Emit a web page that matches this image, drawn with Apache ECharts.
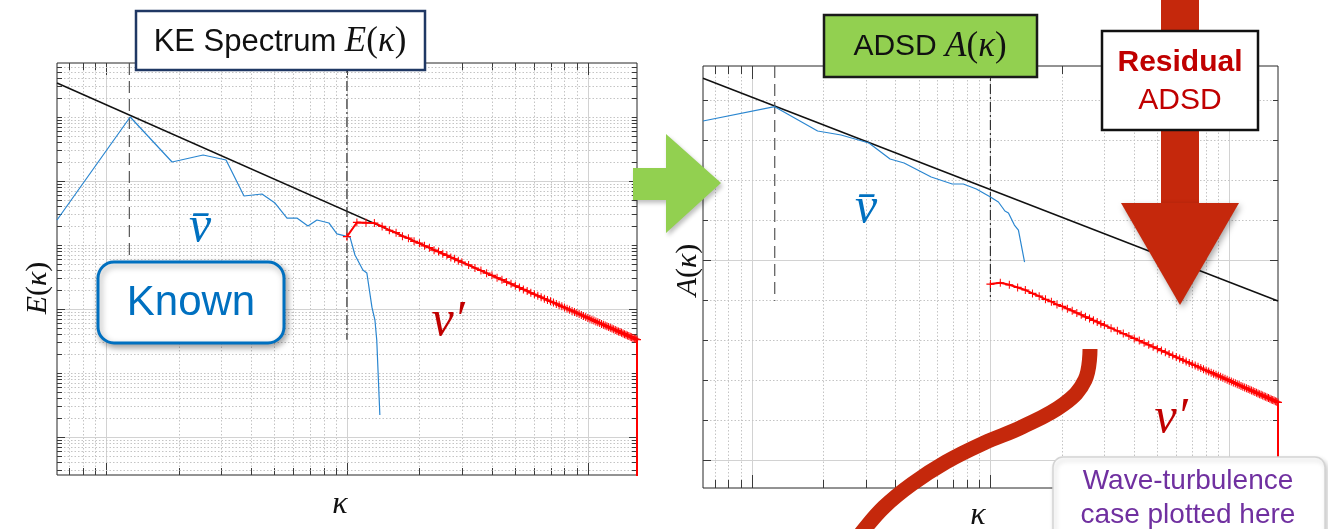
<!DOCTYPE html>
<html>
<head>
<meta charset="utf-8">
<title>KE spectrum and ADSD</title>
<script src="https://cdn.jsdelivr.net/npm/echarts@6.0.0/dist/echarts.min.js"></script>
<style>
html, body { margin: 0; padding: 0; background: #fff; }
#main { width: 1328px; height: 529px; }
</style>
</head>
<body>
<div id="main"></div>
<script>
// axis ranges (both panels share the wavenumber range)
var kappaRange = [0.626, 160];
var keRange = [2.55e-9, 6.98e-3];
var adsdRange = [2.0e-6, 7.08e4];

var kappaPeak = 1.25;  // dashed marker
var kappaCut = 10;     // dash-dot marker

// reference power-law lines
var keFitLine = [[0.626, 3.40e-3], [160, 3.32e-7]];
var adsdFitLine = [[0.626, 3.49e4], [160, 9.44e-2]];

// mean (resolved) part, blue
var keMeanKappa = [0.626, 1.26, 1.88, 2.53, 3.15, 3.74, 4.44, 5.03, 5.64, 6.20, 6.89, 7.51, 8.42, 9.09, 9.9, 10.3, 10.8, 11.65, 12.1, 12.7, 13.07, 13.3, 13.7];
var keMeanE = [2.46e-5, 1.0e-3, 1.98e-4, 2.55e-4, 2.13e-4, 5.83e-5, 6.27e-5, 4.53e-5, 2.64e-5, 2.64e-5, 1.98e-5, 2.46e-5, 2.21e-5, 1.49e-5, 1.38e-5, 1.33e-5, 6.98e-6, 4.07e-6, 3.65e-6, 1.07e-6, 6.73e-7, 3.28e-7, 2.21e-8];
var adsdMeanKappa = [0.626, 1.249, 1.89, 2.37, 3.10, 3.80, 4.35, 5.65, 6.92, 7.70, 8.73, 10.0, 10.8, 11.5, 11.9, 12.6, 13.1, 13.9];
var adsdMeanA = [2985, 6800, 1679, 1334, 841, 335, 266, 119, 79.4, 79.4, 59.6, 37.6, 28.2, 16.8, 15.0, 7.5, 5.6, 0.89];

// fluctuating part, red (last point drops below the axis)
var fluctKappa = [10, 11, 12, 13, 14, 15, 16, 17, 18, 19, 20, 21, 22, 23, 24, 25, 26, 27, 28, 29, 30,
  32, 34, 36, 38, 40, 42, 44, 46, 48, 50, 52, 54, 56, 58, 60,
  62, 64, 66, 68, 70, 72, 74, 76, 78, 80, 82, 84, 86, 88, 90, 92, 94, 96, 98, 100,
  102, 104, 106, 108, 110, 112, 114, 116, 118, 120, 122, 124, 126, 128, 130,
  132, 134, 136, 138, 140, 142, 144, 146, 148, 150, 152, 154, 156, 158, 160, 160];
var keFluctE = [1.35e-5, 2.25e-5, 2.22e-5, 2.20e-5, 1.95e-5, 1.70e-5, 1.56e-5, 1.37e-5, 1.28e-5, 1.14e-5, 1.07e-5, 9.7e-6, 9.1e-6, 8.3e-6, 7.9e-6, 7.3e-6, 6.9e-6, 6.4e-6, 6.1e-6, 5.7e-6, 5.4e-6,
  4.88e-6, 4.37e-6, 4.0e-6, 3.63e-6, 3.36e-6, 3.08e-6, 2.87e-6, 2.64e-6, 2.48e-6, 2.30e-6, 2.17e-6, 2.02e-6, 1.92e-6, 1.79e-6, 1.70e-6,
  1.61e-6, 1.53e-6, 1.45e-6, 1.38e-6, 1.32e-6, 1.26e-6, 1.20e-6, 1.15e-6, 1.10e-6, 1.055e-6, 1.01e-6, 9.72e-7, 9.35e-7, 9.0e-7, 8.67e-7, 8.36e-7, 8.06e-7, 7.78e-7, 7.52e-7, 7.27e-7,
  7.04e-7, 6.81e-7, 6.60e-7, 6.40e-7, 6.20e-7, 6.02e-7, 5.84e-7, 5.68e-7, 5.52e-7, 5.37e-7, 5.22e-7, 5.08e-7, 4.95e-7, 4.82e-7, 4.70e-7,
  4.58e-7, 4.47e-7, 4.36e-7, 4.25e-7, 4.15e-7, 4.05e-7, 3.96e-7, 3.87e-7, 3.78e-7, 3.70e-7, 3.62e-7, 3.54e-7, 3.47e-7, 3.39e-7, 3.32e-7, 1e-12];
var adsdFluctA = [0.25, 0.27, 0.24, 0.206, 0.178, 0.146, 0.125, 0.104, 0.091, 0.077, 0.0692, 0.0605, 0.0540, 0.0476, 0.0429, 0.0381, 0.0347, 0.0310, 0.0284, 0.0256, 0.0237,
  0.0198, 0.0170, 0.01448, 0.01262, 0.01095, 0.00968, 0.00850, 0.00759, 0.00675, 0.00608, 0.00546, 0.00496, 0.00448, 0.00410, 0.00374,
  0.00343, 0.00315, 0.00290, 0.00268, 0.00248, 0.00231, 0.00214, 0.00200, 0.00186, 0.00174, 0.00163, 0.00153, 0.00144, 0.00135, 0.00127, 0.00120, 0.00114, 0.00107, 0.00102, 9.63e-4,
  9.14e-4, 8.68e-4, 8.25e-4, 7.85e-4, 7.48e-4, 7.13e-4, 6.80e-4, 6.49e-4, 6.20e-4, 5.93e-4, 5.68e-4, 5.44e-4, 5.21e-4, 5.00e-4, 4.80e-4,
  4.61e-4, 4.43e-4, 4.26e-4, 4.09e-4, 3.94e-4, 3.80e-4, 3.66e-4, 3.53e-4, 3.40e-4, 3.28e-4, 3.17e-4, 3.06e-4, 2.96e-4, 2.86e-4, 2.76e-4, 1e-9];

// grid decades (major = solid line), minor lines at 1..9 multiples
var kappaDecades = [-1, 0, 1, 2];
var kappaMajor = [0, 1, 2];
var keDecades = [-9, -8, -7, -6, -5, -4, -3];
var keMajor = [-8, -6, -4];
var adsdDecades = [-5, -4, -3, -2, -1, 0, 1, 2, 3, 4];
var adsdMajor = [-5, 0];
var allMults = [1, 2, 3, 4, 5, 6, 7, 8, 9];
var decadeOnly = [1];

function logTicks(decades, majors, mults, range) {
  var out = [];
  decades.forEach(function (d) {
    mults.forEach(function (m) {
      var v = m * Math.pow(10, d);
      if (v > range[0] * 1.001 && v < range[1] / 1.001) {
        out.push({ v: v, major: m === 1 && majors.indexOf(d) >= 0 });
      }
    });
  });
  return out;
}

function gridSeries(idx, ticks, vertical, ref, majorLen, minorLen) {
  return {
    type: 'custom',
    xAxisIndex: idx, yAxisIndex: idx,
    silent: true, z: 1,
    data: ticks.map(function (t) { return vertical ? [t.v, ref] : [ref, t.v]; }),
    renderItem: function (params, api) {
      var cs = params.coordSys;
      var t = ticks[params.dataIndex];
      var p = api.coord([api.value(0), api.value(1)]);
      var len = t.major ? majorLen : minorLen;
      var x0 = cs.x, x1 = cs.x + cs.width, y0 = cs.y, y1 = cs.y + cs.height;
      function gl() {
        return { stroke: t.major ? '#d2d2d2' : '#c4c4c4', lineWidth: 1, lineDash: t.major ? null : [1.5, 2] };
      }
      function tk() { return { stroke: '#3a3a3a', lineWidth: 1 }; }
      var kids;
      if (vertical) {
        var x = Math.round(p[0]) + 0.5;
        kids = [
          { type: 'line', shape: { x1: x, y1: y0, x2: x, y2: y1 }, style: gl() },
          { type: 'line', shape: { x1: x, y1: y1, x2: x, y2: y1 - len }, style: tk() },
          { type: 'line', shape: { x1: x, y1: y0, x2: x, y2: y0 + len }, style: tk() }
        ];
      } else {
        var y = Math.round(p[1]) + 0.5;
        kids = [
          { type: 'line', shape: { x1: x0, y1: y, x2: x1, y2: y }, style: gl() },
          { type: 'line', shape: { x1: x0, y1: y, x2: x0 + len, y2: y }, style: tk() },
          { type: 'line', shape: { x1: x1, y1: y, x2: x1 - len, y2: y }, style: tk() }
        ];
      }
      return { type: 'group', children: kids };
    }
  };
}

function pairs(xs, ys) {
  return xs.map(function (x, i) { return [x, ys[i]]; });
}

var plusMark = 'path://M-0.5,-4H0.5V-0.6H4V0.6H0.5V4H-0.5V0.6H-4V-0.6H-0.5Z';

function panelSeries(idx, yRange, fit, meanK, meanV, fluctV) {
  var fitEnd = fit[1][1];
  return [
    { type: 'line', xAxisIndex: idx, yAxisIndex: idx, data: fit, symbol: 'none', silent: true, z: 3,
      lineStyle: { color: '#111', width: 1.5 } },
    { type: 'line', xAxisIndex: idx, yAxisIndex: idx, data: [[kappaPeak, yRange[1]], [kappaPeak, fitEnd]], symbol: 'none', silent: true,
      lineStyle: { color: '#555', width: 1.2, type: [12, 6] } },
    { type: 'line', xAxisIndex: idx, yAxisIndex: idx, data: [[kappaCut, yRange[1]], [kappaCut, fitEnd]], symbol: 'none', silent: true,
      lineStyle: { color: '#333', width: 1.2, type: [10, 3, 2, 3] } },
    { type: 'line', xAxisIndex: idx, yAxisIndex: idx, data: pairs(meanK, meanV), symbol: 'none', silent: true, z: 4,
      lineStyle: { color: '#2a86d0', width: 1.2 } },
    { type: 'line', xAxisIndex: idx, yAxisIndex: idx, data: pairs(fluctKappa, fluctV), silent: true, z: 5,
      symbol: plusMark, symbolSize: 8, showSymbol: true,
      itemStyle: { color: '#ff0000' }, lineStyle: { color: '#ff0000', width: 2 } }
  ];
}

function logAxis(idx, range) {
  return { type: 'log', gridIndex: idx, min: range[0], max: range[1],
    axisLine: { show: false }, axisTick: { show: false }, axisLabel: { show: false }, splitLine: { show: false } };
}

var kTicks = logTicks(kappaDecades, kappaMajor, allMults, kappaRange);
var keTicks = logTicks(keDecades, keMajor, allMults, keRange);
var adsdTicks = logTicks(adsdDecades, adsdMajor, decadeOnly, adsdRange);

var serif = '"Liberation Serif", "DejaVu Serif", serif';
var sans = '"Liberation Sans", Arial, sans-serif';
var mathRich = function (size, textSize) {
  return {
    a: { fontSize: textSize || 30, fontFamily: sans, fill: '#111' },
    m: { fontSize: size, fontFamily: serif, fontStyle: 'italic', fill: '#111' },
    p: { fontSize: size, fontFamily: serif, fill: '#111' }
  };
};
var arrowRed = '#c5280c';
var shadow = { shadowBlur: 6, shadowOffsetX: 2, shadowOffsetY: 3, shadowColor: 'rgba(0,0,0,0.35)' };

function withShadow(style) {
  return Object.assign({}, shadow, style);
}

var option = {
  animation: false,
  backgroundColor: '#fff',
  grid: [
    { left: 57, top: 63, width: 580, height: 412, show: true, borderColor: '#262626', borderWidth: 1 },
    { left: 703, top: 66, width: 575, height: 422, show: true, borderColor: '#262626', borderWidth: 1 }
  ],
  xAxis: [logAxis(0, kappaRange), logAxis(1, kappaRange)],
  yAxis: [logAxis(0, keRange), logAxis(1, adsdRange)],
  series: [
    gridSeries(0, kTicks, true, 1e-5, 12, 7),
    gridSeries(0, keTicks, false, 1, 8, 5),
    gridSeries(1, kTicks, true, 1, 13, 8),
    gridSeries(1, adsdTicks, false, 1, 8, 5)
  ].concat(
    panelSeries(0, keRange, keFitLine, keMeanKappa, keMeanE, keFluctE),
    panelSeries(1, adsdRange, adsdFitLine, adsdMeanKappa, adsdMeanA, adsdFluctA)
  ),
  graphic: [
    // left title
    { type: 'rect', z: 100, shape: { x: 136, y: 11, width: 289, height: 59 },
      style: { fill: '#fff', stroke: '#203864', lineWidth: 2.5 } },
    { type: 'text', z: 101, x: 280, y: 42, style: { text: '{a|KE Spectrum }{m|E}{p|(}{m|κ}{p|)}', rich: mathRich(35, 31), align: 'center', verticalAlign: 'middle' } },
    // right title
    { type: 'rect', z: 100, shape: { x: 824, y: 15, width: 213, height: 62 },
      style: { fill: '#92d050', stroke: '#1a1a1a', lineWidth: 2.5 } },
    { type: 'text', z: 101, x: 930, y: 47, style: { text: '{a|ADSD }{m|A}{p|(}{m|κ}{p|)}', rich: mathRich(35, 30), align: 'center', verticalAlign: 'middle' } },
    // green arrow between panels
    { type: 'polygon', z: 100, shape: { points: [[633, 168], [666, 168], [666, 134], [721, 183], [666, 233], [666, 200], [633, 200]] },
      style: withShadow({ fill: '#92d050', shadowBlur: 4, shadowColor: 'rgba(0,0,0,0.25)' }) },
    // red arrow down
    { type: 'rect', z: 100, shape: { x: 1161, y: -5, width: 38, height: 212 }, style: { fill: arrowRed } },
    { type: 'polygon', z: 100, shape: { points: [[1121, 203], [1239, 203], [1180, 305]] },
      style: withShadow({ fill: arrowRed }) },
    { type: 'rect', z: 101, shape: { x: 1102, y: 31, width: 156, height: 99 },
      style: { fill: '#fff', stroke: '#111', lineWidth: 2.5 } },
    { type: 'text', z: 102, x: 1180, y: 63, style: { text: 'Residual', fontSize: 30, fontWeight: 'bold', fontFamily: sans, fill: '#c00000', align: 'center', verticalAlign: 'middle' } },
    { type: 'text', z: 102, x: 1180, y: 101, style: { text: 'ADSD', fontSize: 30, fontFamily: sans, fill: '#c00000', align: 'center', verticalAlign: 'middle' } },
    // "Known" label
    { type: 'rect', z: 100, shape: { x: 98, y: 262, width: 186, height: 81, r: 16 },
      style: withShadow({ fill: '#fff', stroke: '#0070c0', lineWidth: 3 }) },
    { type: 'text', z: 101, x: 191, y: 303, style: { text: 'Known', fontSize: 42, fontFamily: sans, fill: '#0070c0', align: 'center', verticalAlign: 'middle' } },
    // curve labels
    { type: 'text', z: 101, x: 200, y: 228, style: { text: 'v\u0304', fontSize: 50, fontStyle: 'italic', fontFamily: serif, fill: '#0070c0', align: 'center', verticalAlign: 'middle' } },
    { type: 'text', z: 101, x: 866, y: 209, style: { text: 'v\u0304', fontSize: 50, fontStyle: 'italic', fontFamily: serif, fill: '#0070c0', align: 'center', verticalAlign: 'middle' } },
    { type: 'text', z: 101, x: 448, y: 322, style: { text: 'v\u2032', fontSize: 50, fontStyle: 'italic', fontFamily: serif, fill: '#c00000', align: 'center', verticalAlign: 'middle' } },
    { type: 'text', z: 101, x: 1171, y: 419, style: { text: 'v\u2032', fontSize: 50, fontStyle: 'italic', fontFamily: serif, fill: '#c00000', align: 'center', verticalAlign: 'middle' } },
    // axis names
    { type: 'text', z: 101, x: 38, y: 288, rotation: Math.PI / 2, style: { text: '{m|E}{p|(}{m|κ}{p|)}', rich: mathRich(30), align: 'center', verticalAlign: 'middle' } },
    { type: 'text', z: 101, x: 688, y: 270, rotation: Math.PI / 2, style: { text: '{m|A}{p|(}{m|κ}{p|)}', rich: mathRich(30), align: 'center', verticalAlign: 'middle' } },
    { type: 'text', z: 101, x: 340, y: 505, style: { text: 'κ', fontSize: 32, fontStyle: 'italic', fontFamily: serif, fill: '#111', align: 'center', verticalAlign: 'middle' } },
    { type: 'text', z: 101, x: 978, y: 516, style: { text: 'κ', fontSize: 32, fontStyle: 'italic', fontFamily: serif, fill: '#111', align: 'center', verticalAlign: 'middle' } },
    // red S-shaped pointer
    { type: 'polyline', z: 100, shape: { points: [[1090, 349], [1085, 380], [1064, 404], [1022, 427], [984, 443], [946, 462], [912, 484], [884, 507], [862, 532], [852, 545]], smooth: 0.4 },
      style: { stroke: arrowRed, lineWidth: 15, fill: null, lineCap: 'butt' } },
    // wave-turbulence note
    { type: 'rect', z: 102, shape: { x: 1053, y: 457, width: 272, height: 100, r: 10 },
      style: withShadow({ fill: '#fff', stroke: '#d4d4d4', lineWidth: 1.5, shadowBlur: 5, shadowColor: 'rgba(0,0,0,0.2)' }) },
    { type: 'text', z: 103, x: 1188, y: 481, style: { text: 'Wave-turbulence', fontSize: 28, fontFamily: sans, fill: '#7030a0', align: 'center', verticalAlign: 'middle' } },
    { type: 'text', z: 103, x: 1188, y: 515, style: { text: 'case plotted here', fontSize: 28, fontFamily: sans, fill: '#7030a0', align: 'center', verticalAlign: 'middle' } }
  ]
};

var myChart = echarts.init(document.getElementById('main'));
myChart.setOption(option);

window.onresize = function () {
  myChart.resize();
};
</script>
</body>
</html>
